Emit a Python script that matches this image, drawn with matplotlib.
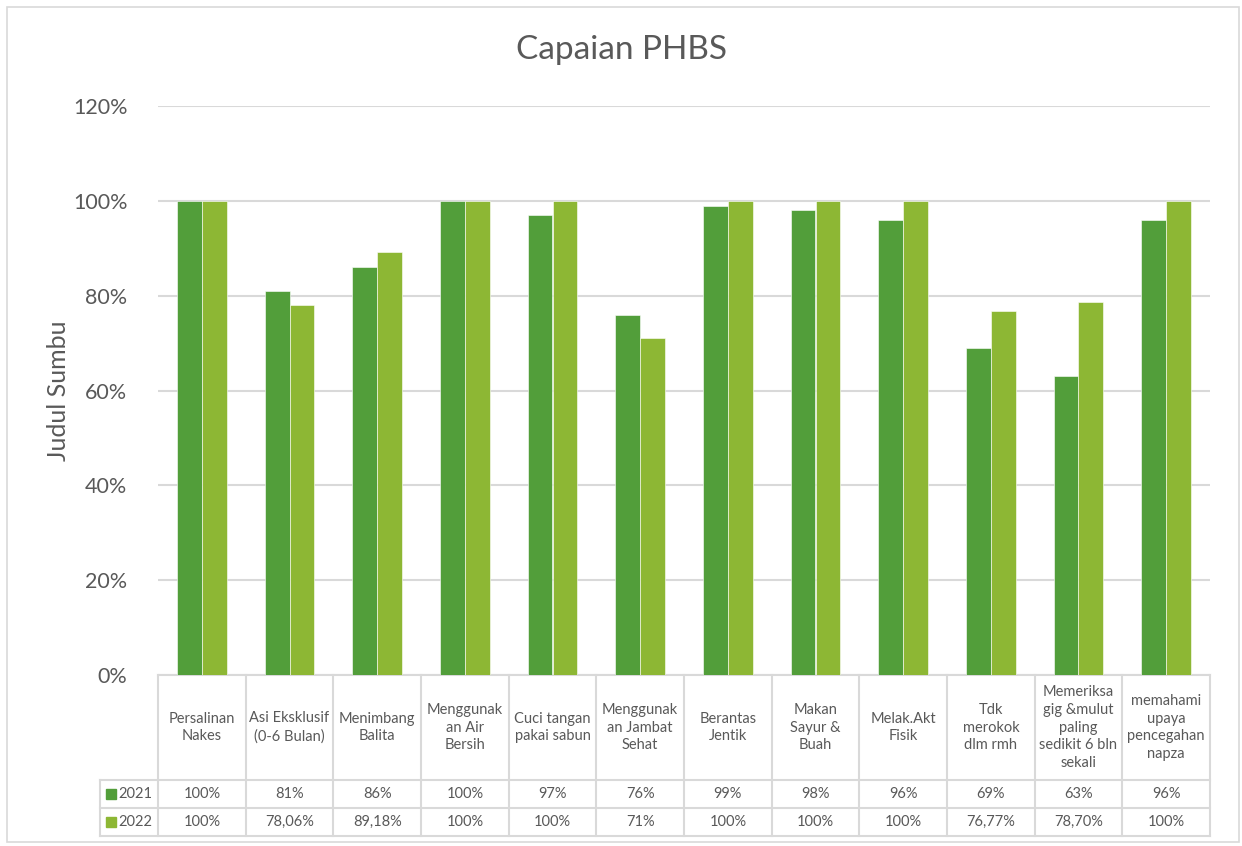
import matplotlib
matplotlib.use("Agg")
import matplotlib.pyplot as plt
import matplotlib.transforms as mtransforms
from matplotlib.patches import Rectangle
import numpy as np

plt.rcParams["font.family"] = ["Lato", "DejaVu Sans"]

categories = [
    "Persalinan\nNakes",
    "Asi Eksklusif\n(0-6 Bulan)",
    "Menimbang\nBalita",
    "Menggunak\nan Air\nBersih",
    "Cuci tangan\npakai sabun",
    "Menggunak\nan Jambat\nSehat",
    "Berantas\nJentik",
    "Makan\nSayur &\nBuah",
    "Melak.Akt\nFisik",
    "Tdk\nmerokok\ndlm rmh",
    "Memeriksa\ngig &mulut\npaling\nsedikit 6 bln\nsekali",
    "memahami\nupaya\npencegahan\nnapza",
]
series_names = ["2021", "2022"]
values_2021 = [100, 81, 86, 100, 97, 76, 99, 98, 96, 69, 63, 96]
values_2022 = [100, 78.06, 89.18, 100, 100, 71, 100, 100, 100, 76.77, 78.70, 100]
yticks = [0, 20, 40, 60, 80, 100, 120]

C2021 = "#529E3A"
C2022 = "#8DB734"
GRID = "#D9D9D9"
TXT = "#595959"

W, H = 1242, 846


def fmt(v):
    if float(v).is_integer():
        return f"{int(v)}%"
    return f"{v:.2f}%".replace(".", ",")


fig = plt.figure(figsize=(W / 100, H / 100), dpi=100, facecolor="white")

# plot area in pixels: x 158..1210, y 106 (120%) .. 675 (0%)
L, R, T, B = 158, 1210, 106, 675
ax = fig.add_axes([L / W, (H - B) / H, (R - L) / W, (B - T) / H])

n = len(categories)
x = np.arange(n)
bw = 0.285
ax.bar(x - bw / 2, values_2021, bw, color=C2021, edgecolor="white",
       linewidth=0.4, zorder=3)
ax.bar(x + bw / 2, values_2022, bw, color=C2022, edgecolor="white",
       linewidth=0.4, zorder=3)

ax.set_xlim(-0.5, n - 0.5)
ax.set_ylim(0, 120)
ax.set_yticks(yticks)
ax.set_yticklabels([f"{t}%" for t in yticks], fontsize=15.5, color=TXT)
ax.set_xticks([])
ax.tick_params(axis="y", length=0, pad=22)
ax.grid(axis="y", color=GRID, linewidth=1.5, zorder=0)
for s in ax.spines.values():
    s.set_visible(False)

ax.set_ylabel("Judul Sumbu", fontsize=18, color=TXT)
ax.yaxis.set_label_coords(-(L - 70) / (R - L), 0.5)

fig.text(0.5, 1 - 50 / H, "Capaian PHBS", fontsize=24, color=TXT,
         ha="center", va="center")

# data table below the axis, x in data units, y in axes fraction
tr = mtransforms.blended_transform_factory(ax.transData, ax.transAxes)
ph = B - T
y_head = -(780 - B) / ph
y_r1 = -(808 - B) / ph
y_r2 = -(836 - B) / ph
x_left = -0.5 - (L - 100) / ((R - L) / n)

line_kw = dict(color=GRID, linewidth=1.5, transform=tr, clip_on=False, zorder=1)
ax.plot([-0.5, n - 0.5], [0, 0], **line_kw)
for yy in (y_head, y_r1, y_r2):
    ax.plot([x_left, n - 0.5], [yy, yy], **line_kw)
for i in range(n + 1):
    ax.plot([i - 0.5, i - 0.5], [0, y_r2], **line_kw)
ax.plot([x_left, x_left], [y_head, y_r2], **line_kw)

for i, lab in enumerate(categories):
    ax.text(i, y_head / 2, lab, transform=tr, ha="center", va="center",
            fontsize=10.5, color=TXT, linespacing=1.33, clip_on=False)
    ax.text(i, (y_head + y_r1) / 2, fmt(values_2021[i]), transform=tr,
            ha="center", va="center", fontsize=10.5, color=TXT)
    ax.text(i, (y_r1 + y_r2) / 2, fmt(values_2022[i]), transform=tr,
            ha="center", va="center", fontsize=10.5, color=TXT)

for name, col, (y0, y1) in zip(series_names, [C2021, C2022],
                               [(y_head, y_r1), (y_r1, y_r2)]):
    yc = (y0 + y1) / 2
    ax.plot([x_left + 0.12], [yc], marker="s", markersize=6.5, color=col,
            transform=tr, clip_on=False, linestyle="none")
    ax.text(x_left + 0.21, yc, name, transform=tr, ha="left", va="center",
            fontsize=10.5, color=TXT)

# outer chart border
fig.patches.append(Rectangle((7 / W, 4 / H), (1239 - 7) / W, (842 - 7) / H,
                             transform=fig.transFigure, fill=False,
                             edgecolor=GRID, linewidth=1.2))

fig.savefig("out.png", dpi=100, facecolor="white")
